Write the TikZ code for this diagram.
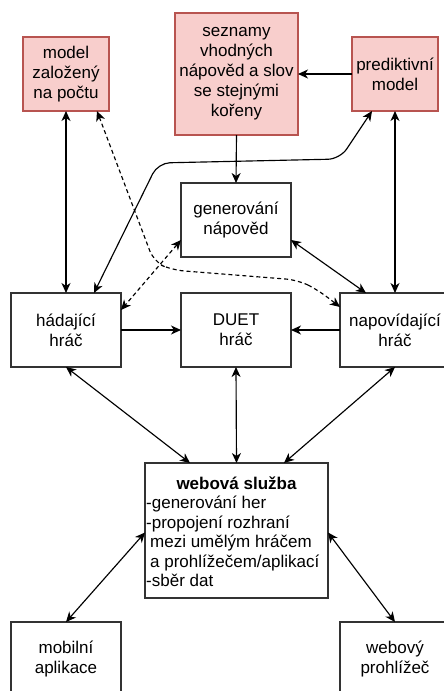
\documentclass[tikz,border=0pt]{standalone}
\usepackage{fontspec}
\setmainfont{Liberation Sans}
\usetikzlibrary{arrows.meta}
\definecolor{pfill}{HTML}{F8CECC}
\definecolor{pdraw}{HTML}{B85450}
\begin{document}
\begin{tikzpicture}[x=1pt,y=-1pt,
  box/.style={draw=black!80, line width=1.2pt, fill=white, minimum width=110pt,
    minimum height=74pt, align=center, inner sep=0pt, outer sep=0pt,
    font=\fontsize{17}{20}\selectfont},
  pbox/.style={box, fill=pfill, draw=pdraw},
  tip/.tip={Stealth[length=10pt,width=9pt,inset=3pt]},
  conn/.style={line width=1.15pt, black, tip-tip},
  oneway/.style={line width=1.15pt, black, -tip},
  dashline/.style={dash pattern=on 4pt off 3pt}]
\useasboundingbox (0,0) rectangle (444,691);

\node[pbox, minimum width=86pt] (cnt) at (66,74) {model\\založený\\na počtu};
\node[pbox, minimum width=123pt, minimum height=122pt] (sez) at (236.5,74)
  {seznamy\\vhodných\\nápověd a slov\\se stejnými\\kořeny};
\node[pbox, minimum width=86pt] (pred) at (395,74) {prediktivní\\model};
\node[box] (gen) at (236,220) {generování\\nápověd};
\node[box] (had) at (66,330) {hádající\\hráč};
\node[box] (duet) at (236,330) {DUET\\hráč};
\node[box] (nap) at (395,330) {napovídající\\hráč};
\node[box, minimum width=183pt, minimum height=135pt] (web) at (236.5,530.5) {};
\node[anchor=north, inner sep=0pt, font=\fontsize{17}{20}\selectfont\bfseries] (webt) at (236.5,477) {webová služba};
\node[anchor=north west, inner sep=0pt, align=left, font=\fontsize{17}{19.5}\selectfont] (webl) at (146,496)
  {-generování her\\-propojení rozhraní\\\hspace*{4pt}mezi umělým hráčem\\\hspace*{4pt}a prohlížečem/aplikací\\-sběr dat};
\node[box] (mob) at (66,659) {mobilní\\aplikace};
\node[box] (webp) at (395,659) {webový\\prohlížeč};

\draw[oneway] (pred.west) -- (sez.east);
\draw[oneway] (sez.south) -- (gen.north);
\draw[conn] (cnt.south) -- (had.north);
\draw[conn] (pred.south) -- (nap.north);
\draw[conn, rounded corners=12pt] ([xshift=28pt]had.north) -- (158,163) -- (340,159) -- ([xshift=20pt]pred.south west);
\draw[conn, dashline, rounded corners=12pt] ([xshift=-12pt]cnt.south east) -- (154,262) -- (172,270) -- (298,280) -- (318,290) -- ([yshift=-14pt]nap.north west);
\draw[conn, dashline] ([yshift=17pt]gen.south west) -- ([yshift=-17pt]had.north east);
\draw[conn] ([yshift=17pt]gen.south east) -- ([xshift=26pt]nap.north west);
\draw[oneway] (had.east) -- (duet.west);
\draw[oneway] (nap.west) -- (duet.east);
\draw[conn] (had.south) -- ([xshift=45pt]web.north west);
\draw[conn] (duet.south) -- (web.north);
\draw[conn] (nap.south) -- ([xshift=-44pt]web.north east);
\draw[conn] ([yshift=-2pt]web.west) -- (mob.north);
\draw[conn] ([yshift=-2pt]web.east) -- (webp.north);
\end{tikzpicture}
\end{document}
